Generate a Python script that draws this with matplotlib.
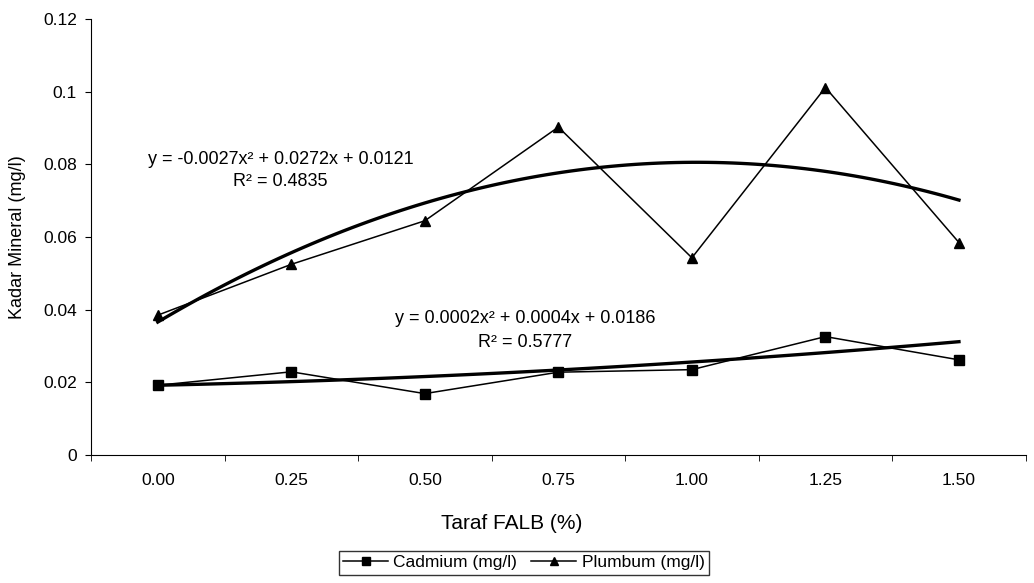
import matplotlib
matplotlib.use("Agg")
import matplotlib.pyplot as plt
import numpy as np

plt.rcParams['font.family'] = ['Liberation Sans', 'DejaVu Sans']

# data
levels = ["0.00", "0.25", "0.50", "0.75", "1.00", "1.25", "1.50"]
cadmium = [0.0192, 0.0229, 0.0169, 0.0228, 0.0235, 0.0326, 0.0262]
plumbum = [0.0385, 0.0525, 0.0645, 0.0903, 0.0543, 0.1012, 0.0585]
# trendline coefficients as printed on the chart (x = 1..7)
cd_coef = [0.0002, 0.0004, 0.0186]
pb_coef = [-0.0027, 0.0272, 0.0121]
yticks = [0, 0.02, 0.04, 0.06, 0.08, 0.1, 0.12]
ytick_labels = ["0", "0.02", "0.04", "0.06", "0.08", "0.1", "0.12"]

fig = plt.figure(figsize=(10.34, 5.83), dpi=100)
ax = fig.add_axes([0.088, 0.2196, 0.904, 0.7474])

x = np.arange(len(levels))
ax.plot(x, cadmium, color="black", lw=1.1, marker="s", ms=6.5, label="Cadmium (mg/l)")
ax.plot(x, plumbum, color="black", lw=1.1, marker="^", ms=7.5, label="Plumbum (mg/l)")

xs = np.linspace(0, len(levels) - 1, 100)
ax.plot(xs, np.polyval(cd_coef, xs + 1), color="black", lw=2.4)
ax.plot(xs, np.polyval(pb_coef, xs + 1), color="black", lw=2.4)

eq_font = 13
ax.text(0.92, 0.0815, "y = -0.0027x² + 0.0272x + 0.0121", ha="center", va="center", fontsize=eq_font)
ax.text(0.92, 0.0752, "R² = 0.4835", ha="center", va="center", fontsize=eq_font)
ax.text(2.75, 0.0376, "y = 0.0002x² + 0.0004x + 0.0186", ha="center", va="center", fontsize=eq_font)
ax.text(2.75, 0.0309, "R² = 0.5777", ha="center", va="center", fontsize=eq_font)

ax.set_xlim(-0.5, len(levels) - 0.5)
ax.set_ylim(0, 0.12)
ax.set_yticks(yticks)
ax.set_yticklabels(ytick_labels, fontsize=12.5)
ax.set_xticks(x)
ax.set_xticklabels(levels, fontsize=12.5)
ax.tick_params(axis="x", length=0, pad=13)
ax.set_xticks(np.arange(len(levels) + 1) - 0.5, minor=True)
ax.tick_params(axis="x", which="minor", length=4, direction="out")
ax.tick_params(axis="y", length=4, direction="out", pad=6)

for s in ["top", "right"]:
    ax.spines[s].set_visible(False)

ax.set_ylabel("Kadar Mineral (mg/l)", fontsize=13)
ax.yaxis.set_label_coords(-0.069, 0.5)
ax.set_xlabel("Taraf FALB (%)", fontsize=15)
ax.xaxis.set_label_coords(0.45, -0.136)

ax.legend(loc="upper center", bbox_to_anchor=(0.463, -0.2), ncol=2, fontsize=12.5,
          frameon=True, fancybox=False, edgecolor="black", handlelength=2.6,
          columnspacing=0.8, handletextpad=0.3, borderpad=0.25, markerscale=0.8)

fig.savefig("out.png", dpi=100)
